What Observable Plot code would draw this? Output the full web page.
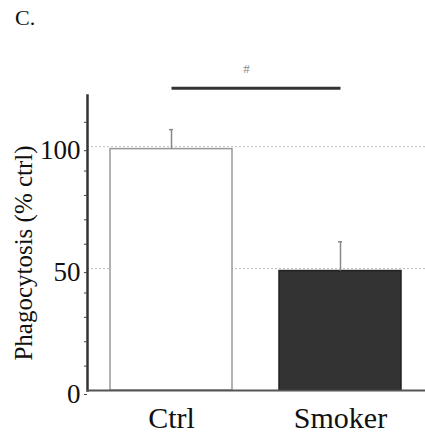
<!DOCTYPE html>
<html>
<head>
<meta charset="utf-8">
<script src="https://cdn.jsdelivr.net/npm/d3@7"></script>
<script src="https://cdn.jsdelivr.net/npm/@observablehq/plot@0.6"></script>
<style>
  html, body { margin: 0; padding: 0; background: #fff; }
  #wrap { position: relative; width: 425px; height: 434px; }
  #panel { position: absolute; left: 15px; top: 5px; font-family: "Liberation Serif", "Times New Roman", Times, "DejaVu Serif", "Noto Serif", serif; font-size: 22px; color: #111; }
  #wrap svg, #wrap svg text, #wrap svg g { font-family: "Liberation Serif", "Times New Roman", Times, "DejaVu Serif", "Noto Serif", serif !important; }
</style>
</head>
<body>
<div id="wrap"><div id="panel">C.</div></div>
<script>
const groups = ["Ctrl", "Smoker"];
const values = [99, 49];
const errors = [8, 12];
const yMajorTicks = [0, 50, 100];
const yMinorTicks = [10, 20, 30, 40, 60, 70, 80, 90, 110];
const yGridLines = [50, 100];
const yLabel = "Phagocytosis (% ctrl)";
const sigLevel = 124;
const sigLabel = "#";
const serif = "Liberation Serif, Times New Roman, Times, DejaVu Serif, serif";

const data = groups.map((g, i) => ({group: g, value: values[i], err: errors[i]}));

const chart = Plot.plot({
  width: 425,
  height: 434,
  marginLeft: 87,
  marginRight: 0,
  marginTop: 95,
  marginBottom: 44,
  style: {fontFamily: serif, background: "white", overflow: "visible"},
  x: {domain: groups, paddingInner: 0.276, paddingOuter: 0.135, align: 0.5},
  y: {domain: [0, 121]},
  marks: [
    Plot.gridY(yGridLines, {stroke: "#aaa", strokeOpacity: 0.8, strokeDasharray: "2,2"}),
    Plot.barY(data, {x: "group", y: "value", fill: (d) => d.group === "Ctrl" ? "#ffffff" : "#333333",
      stroke: (d) => d.group === "Ctrl" ? "#999999" : "#222222", strokeWidth: 1.5}),
    Plot.ruleX(data, {x: "group", y1: "value", y2: (d) => d.value + d.err, stroke: "#888", strokeWidth: 1.5}),
    Plot.tickY(data, {x: "group", y: (d) => d.value + d.err, stroke: "#888", strokeWidth: 1.5, insetLeft: 59, insetRight: 59}),
    Plot.frame({anchor: "left", stroke: "#333", strokeWidth: 2.5}),
    Plot.ruleY([0], {stroke: "#555", strokeWidth: 2}),
    Plot.axisY(yMinorTicks, {tickSize: 3, text: null, stroke: "#444", label: null}),
    Plot.axisY(yMajorTicks, {tickSize: 3, tickPadding: 4, fontSize: 27, fontFamily: serif, dy: 4, stroke: "#444", fill: "#111", label: null}),
    Plot.axisX({tickSize: 0, tickPadding: 16, fontSize: 30, fontFamily: serif, fill: "#111", label: null}),
    Plot.text([yLabel], {frameAnchor: "left", textAnchor: "middle", rotate: -90, dx: -64, dy: 10, fontSize: 25, fontFamily: serif, fill: "#111", text: (d) => d}),
    Plot.link([sigLevel], {x1: () => groups[0], x2: () => groups[1], y1: (d) => d, y2: (d) => d, stroke: "#333", strokeWidth: 3}),
    Plot.text([sigLabel], {y: () => sigLevel + 8, frameAnchor: "middle", dx: -10, fontSize: 13, fontFamily: serif, fill: "#888", text: (d) => d})
  ]
});
document.getElementById("wrap").appendChild(chart);
</script>
</body>
</html>
